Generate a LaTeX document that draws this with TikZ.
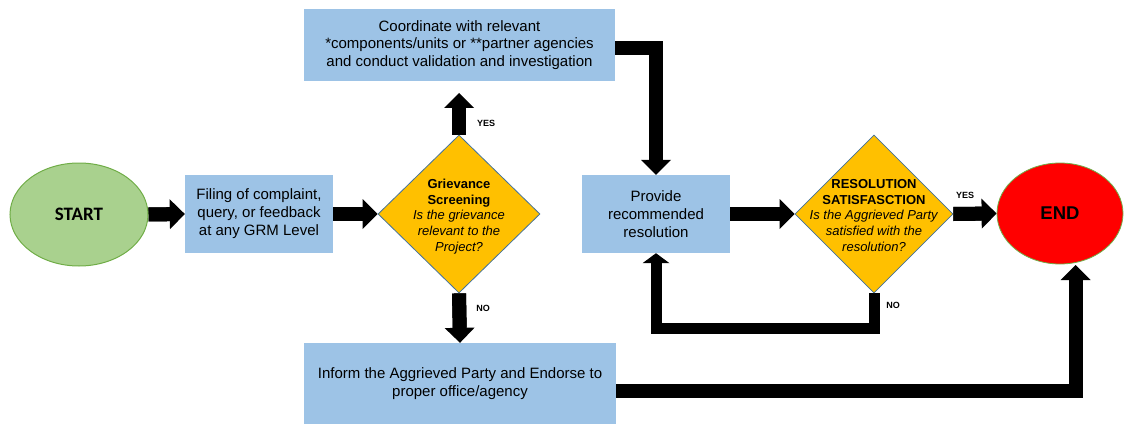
\documentclass[tikz,border=0pt]{standalone}
\usepackage{fontspec}
\setmainfont{Liberation Sans}
\newfontfamily\calibrifont{Carlito}
\usetikzlibrary{shapes.geometric,arrows.meta,backgrounds}
\definecolor{boxblue}{HTML}{9DC3E6}
\definecolor{dgold}{HTML}{FFC000}
\definecolor{dedge}{HTML}{41719C}
\definecolor{sgreen}{HTML}{A9D18E}
\definecolor{egreen}{HTML}{70AD47}
\begin{document}
\begin{tikzpicture}[x=1pt,y=-1pt,
  procbox/.style={fill=boxblue, draw=none, align=center, inner sep=0pt,
    font=\fontsize{15}{18}\selectfont},
  decision/.style={diamond, fill=dgold, draw=dedge, line width=0.8pt, inner sep=0pt},
  dtext/.style={align=center, font=\fontsize{13}{15.8}\selectfont},
  flow/.style={line width=14pt, -{Triangle[width=30pt,length=15pt,line width=0pt]},
    postaction={draw, -, line width=14pt, shorten >=9pt}},
  thinflow/.style={line width=11pt, -{Triangle[width=27pt,length=10pt,line width=0pt]},
    postaction={draw, -, line width=11pt, shorten >=6pt}},
  yn/.style={font=\bfseries\fontsize{9}{10}\selectfont, inner sep=0pt}
]
\useasboundingbox (0,0) rectangle (1124,425);

% nodes
\node[ellipse, fill=sgreen, draw=egreen, line width=1pt, minimum width=138pt, minimum height=103pt,
  font={\calibrifont\bfseries\fontsize{19}{22}\selectfont}] (start) at (79,214.5) {START};
\node[procbox, minimum width=148pt, minimum height=78pt] (filing) at (259,214)
  {Filing of complaint,\\query, or feedback\\at any GRM Level};
\node[decision, minimum width=162pt, minimum height=158pt] (d1) at (459,214) {};
\node[dtext] (d1t) at (459,216.5)
  {\textbf{Grievance}\\\textbf{Screening}\\\textit{Is the grievance}\\\textit{relevant to the}\\\textit{Project?}};
\node[procbox, minimum width=311pt, minimum height=72pt, font=\fontsize{15}{17.5}\selectfont] (coord) at (459.5,45)
  {Coordinate with relevant\\*components/units or **partner agencies\\and conduct validation and investigation};
\node[procbox, minimum width=312pt, minimum height=81pt] (inform) at (460,383.5)
  {Inform the Aggrieved Party and Endorse to\\proper office/agency};
\node[procbox, minimum width=148pt, minimum height=78pt] (prov) at (656,214)
  {Provide\\recommended\\resolution};
\node[decision, minimum width=158pt, minimum height=158pt] (d2) at (874,214) {};
\node[dtext] (d2t) at (874,215.5)
  {\textbf{RESOLUTION}\\\textbf{SATISFASCTION}\\\textit{Is the Aggrieved Party}\\\textit{satisfied with the}\\\textit{resolution?}};
\node[ellipse, fill=red, draw=egreen, line width=0.8pt, minimum width=126pt, minimum height=101pt,
  font={\bfseries\fontsize{18.5}{22}\selectfont}] (end) at (1060,213.5) {END};

\node[yn] (yes1) at (486,123) {YES};
\node[yn] (no1) at (483,308) {NO};
\node[yn] (yes2) at (965,195) {YES};
\node[yn] (no2) at (893,305) {NO};

\coordinate (up1) at (459,93);
\coordinate (cc) at (656,48.5);
\coordinate (lp) at (656,328);
\coordinate (ie) at (1075.5,391);
\coordinate (endin) at (1075.5,265);

\begin{pgfonlayer}{background}
\draw[flow] (start.east) -- (filing.west);
\draw[flow] (filing.east) -- (d1.west);
\draw[flow] (d1.north) -- (up1);
\draw[flow] (d1.south) -- (inform.north);
\draw[flow] (coord.east |- cc) -- (cc) -- (prov.north);
\draw[flow] (prov.east) -- (d2.west);
\draw[flow] (d2.east) -- (end.west);
\draw[thinflow] (d2.south) -- (d2.south |- lp) -- (lp) -- (prov.south);
\draw[flow] (inform.east |- ie) -- (ie) -- (endin);
\end{pgfonlayer}
\end{tikzpicture}
\end{document}
